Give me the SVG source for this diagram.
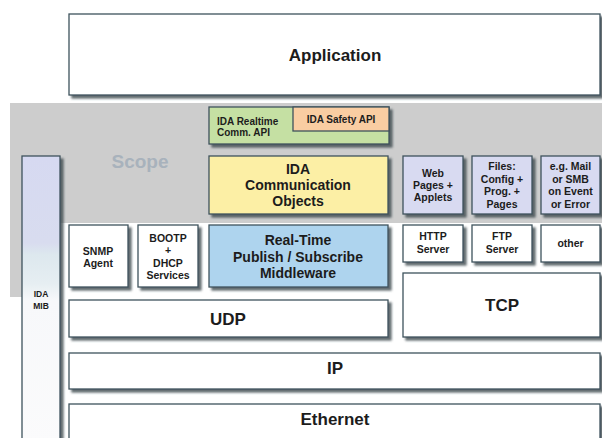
<svg xmlns="http://www.w3.org/2000/svg" width="602" height="438" viewBox="0 0 602 438">
  <defs>
    <filter id="shadow" x="-10%" y="-10%" width="130%" height="140%">
      <feDropShadow dx="3" dy="3" stdDeviation="1.2" flood-color="#3a474d" flood-opacity="0.8"/>
    </filter>
    <linearGradient id="mibFill" x1="0" y1="0" x2="0" y2="1">
      <stop offset="0" stop-color="#d6d9f1"/>
      <stop offset="0.3" stop-color="#d8dcef"/>
      <stop offset="0.34" stop-color="#dde8ee"/>
      <stop offset="0.44" stop-color="#e6eef2"/>
      <stop offset="0.5" stop-color="#f7f8fa"/>
      <stop offset="1" stop-color="#fbfbfc"/>
    </linearGradient>
  </defs>
  <style>
    .box { stroke: #3e525c; stroke-width: 1.3; filter: url(#shadow); }
    .white { fill: #ffffff; }
    .lav { fill: #d8daf1; }
    .t { font-family: "Liberation Sans", Arial, sans-serif; font-weight: bold; fill: #1c1c1c; text-anchor: middle; }
    .big { font-size: 17px; }
    .mid { font-size: 14px; }
    .sm { font-size: 10.5px; }
    .xs { font-size: 10px; }
  </style>

  <rect x="0" y="0" width="602" height="438" fill="#ffffff"/>

  <!-- scope backdrop -->
  <g id="scope">
    <rect x="10" y="103" width="592" height="120" fill="#cdcdcd"/>
    <rect x="10" y="103" width="12" height="194" fill="#cdcdcd"/>
    <text x="140" y="168" class="t" style="font-size:19px;fill:#a8b2bc">Scope</text>
  </g>

  <g id="application">
    <rect x="69" y="14" width="531" height="81" class="box white"/>
    <text x="335" y="61" class="t big">Application</text>
  </g>

  <g id="ida-mib">
    <rect x="22" y="156" width="38" height="290" fill="url(#mibFill)" class="box"/>
    <text x="41" y="297" class="t" style="font-size:8.5px">IDA</text>
    <text x="41" y="309" class="t" style="font-size:8.5px">MIB</text>
  </g>

  <g id="realtime-api">
    <rect x="209" y="107" width="180" height="37" fill="#c5e0a3" class="box"/>
    <text x="217" y="125" class="t xs" style="text-anchor:start">IDA Realtime</text>
    <text x="217" y="136" class="t xs" style="text-anchor:start">Comm.  API</text>
  </g>

  <g id="safety-api">
    <rect x="293" y="107" width="96" height="24" fill="#f9cda2" stroke="#3e525c" stroke-width="1.3"/>
    <text x="341" y="123" class="t xs">IDA Safety API</text>
  </g>

  <g id="comm-objects">
    <rect x="209" y="156" width="179" height="58" fill="#fcefa5" class="box"/>
    <text x="298" y="174" class="t mid">IDA</text>
    <text x="298" y="190" class="t mid">Communication</text>
    <text x="298" y="206" class="t mid">Objects</text>
  </g>

  <g id="middleware">
    <rect x="209" y="225" width="179" height="62" fill="#aed4ee" class="box"/>
    <text x="298" y="245" class="t mid">Real-Time</text>
    <text x="298" y="262" class="t mid">Publish / Subscribe</text>
    <text x="298" y="278" class="t mid">Middleware</text>
  </g>

  <g id="snmp">
    <rect x="69" y="225" width="59" height="62" class="box white"/>
    <text x="98" y="255" class="t sm">SNMP</text>
    <text x="98" y="267" class="t sm">Agent</text>
  </g>

  <g id="bootp">
    <rect x="138" y="225" width="60" height="62" class="box white"/>
    <text x="168" y="242" class="t sm">BOOTP</text>
    <text x="168" y="254" class="t sm">+</text>
    <text x="168" y="266.5" class="t sm">DHCP</text>
    <text x="168" y="279" class="t sm">Services</text>
  </g>

  <g id="web-pages">
    <rect x="403" y="156" width="60" height="58" class="box lav"/>
    <text x="433" y="177" class="t sm">Web</text>
    <text x="433" y="189" class="t sm">Pages +</text>
    <text x="433" y="201" class="t sm">Applets</text>
  </g>

  <g id="files">
    <rect x="472" y="156" width="60" height="58" class="box lav"/>
    <text x="502" y="170" class="t sm">Files:</text>
    <text x="502" y="182.5" class="t sm">Config +</text>
    <text x="502" y="195" class="t sm">Prog. +</text>
    <text x="502" y="207.5" class="t sm">Pages</text>
  </g>

  <g id="mail">
    <rect x="541" y="156" width="59" height="58" class="box lav"/>
    <text x="570.5" y="170" class="t sm">e.g. Mail</text>
    <text x="570.5" y="182.5" class="t sm">or SMB</text>
    <text x="570.5" y="195" class="t sm">on Event</text>
    <text x="570.5" y="207.5" class="t sm">or Error</text>
  </g>

  <g id="http-server">
    <rect x="403" y="225" width="60" height="37" class="box white"/>
    <text x="433" y="240" class="t sm">HTTP</text>
    <text x="433" y="253" class="t sm">Server</text>
  </g>

  <g id="ftp-server">
    <rect x="472" y="225" width="60" height="37" class="box white"/>
    <text x="502" y="240" class="t sm">FTP</text>
    <text x="502" y="253" class="t sm">Server</text>
  </g>

  <g id="other">
    <rect x="541" y="225" width="59" height="37" class="box white"/>
    <text x="570.5" y="247" class="t sm">other</text>
  </g>

  <g id="tcp">
    <rect x="403" y="273" width="197" height="64" class="box white"/>
    <text x="502" y="311" class="t big">TCP</text>
  </g>

  <g id="udp">
    <rect x="69" y="300" width="319" height="37" class="box white"/>
    <text x="228" y="325" class="t big">UDP</text>
  </g>

  <g id="ip">
    <rect x="69" y="353" width="531" height="36" class="box white"/>
    <text x="335" y="374" class="t big">IP</text>
  </g>

  <g id="ethernet">
    <rect x="69" y="404" width="531" height="44" class="box white"/>
    <text x="335" y="425" class="t big">Ethernet</text>
  </g>
</svg>
